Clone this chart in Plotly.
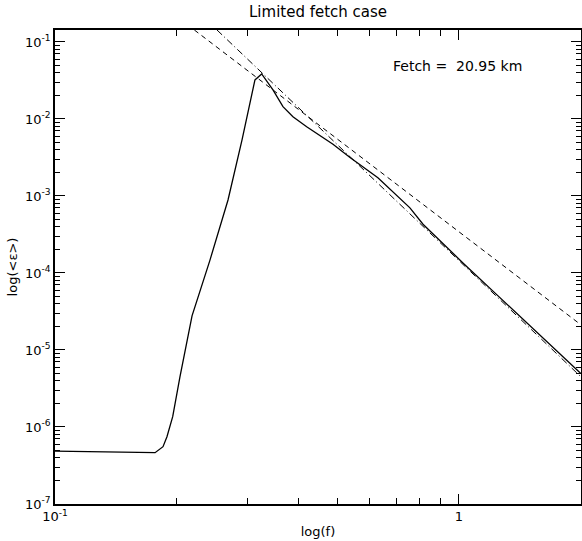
import numpy as np
import plotly.graph_objects as go

# Solid spectrum
freq = [0.1, 0.1293, 0.1623, 0.1769, 0.1851, 0.1893, 0.1956, 0.2039, 0.2184,
        0.2419, 0.2681, 0.2904, 0.3126, 0.3248, 0.3464, 0.3667, 0.3882, 0.4198,
        0.4877, 0.5374, 0.630, 0.7562, 0.8147, 1.023, 1.242, 1.514, 2.0]
energy = [4.87e-7, 4.73e-7, 4.6e-7, 4.64e-7, 5.55e-7, 7.48e-7, 1.36e-6, 4.5e-6, 2.77e-5,
          1.47e-4, 8.87e-4, 5.34e-3, 3.21e-2, 3.84e-2, 2.38e-2, 1.445e-2, 1.07e-2, 7.94e-3,
          4.7e-3, 3.15e-3, 1.72e-3, 7.0e-4, 4.3e-4, 1.35e-4, 5.2e-5, 1.95e-5, 5.0e-6]

# Reference power laws (endpoints)
f4_x = [0.2213, 2.0]
f4_y = [0.143, 2.14e-5]
f5_x = [0.2518, 2.0]
f5_y = [0.143, 4.53e-6]

xtickvals = [0.1, 1]
xticktext = ["10<sup>-1</sup>", "1"]
xminor = [0.2, 0.3, 0.4, 0.5, 0.6, 0.7, 0.8, 0.9, 2.0]
ytickvals = [1e-7, 1e-6, 1e-5, 1e-4, 1e-3, 1e-2, 1e-1]
yticktext = ["10<sup>-7</sup>", "10<sup>-6</sup>", "10<sup>-5</sup>", "10<sup>-4</sup>",
             "10<sup>-3</sup>", "10<sup>-2</sup>", "10<sup>-1</sup>"]
yminor = [m * 10.0 ** e for e in range(-7, 0) for m in range(2, 10)]

fig = go.Figure()
fig.add_trace(go.Scatter(x=freq, y=energy, mode="lines",
                         line=dict(color="black", width=1.3), showlegend=False))
fig.add_trace(go.Scatter(x=f4_x, y=f4_y, mode="lines",
                         line=dict(color="black", width=1, dash="5px,4px"), showlegend=False))
fig.add_trace(go.Scatter(x=f5_x, y=f5_y, mode="lines",
                         line=dict(color="black", width=1, dash="7px,3px,1px,3px"), showlegend=False))

font = "DejaVu Sans, Verdana, sans-serif"
axis_common = dict(type="log", showgrid=False, zeroline=False, showline=True,
                   linecolor="black", linewidth=1.5, mirror="ticks", automargin=False,
                   ticks="inside", ticklen=10, tickwidth=1, tickcolor="black",
                   tickfont=dict(family=font, size=13, color="black"))

fig.update_xaxes(range=[-1, np.log10(2.005)], tickmode="array", tickvals=xtickvals, ticktext=xticktext,
                 minor=dict(tickmode="array", tickvals=xminor, ticks="inside", ticklen=6,
                            tickwidth=1, tickcolor="black", showgrid=False),
                 title=dict(text="log(f)", font=dict(family=font, size=13, color="black"),
                            standoff=4),
                 **axis_common)
fig.update_yaxes(range=[-7, np.log10(0.143)], tickmode="array", tickvals=ytickvals, ticktext=yticktext,
                 minor=dict(tickmode="array", tickvals=yminor, ticks="inside", ticklen=5,
                            tickwidth=1, tickcolor="black", showgrid=False),
                 title=dict(text="log(&lt;ε&gt;)", font=dict(family=font, size=13, color="black"),
                            standoff=4),
                 **axis_common)

fig.add_annotation(x=0.766, y=0.925, xref="paper", yref="paper", xanchor="center", yanchor="middle",
                   text="Fetch =&nbsp;&nbsp;20.95 km",
                   showarrow=False, font=dict(family=font, size=14, color="black"))
fig.add_annotation(x=0.5, y=1.038, xref="paper", yref="paper", xanchor="center", yanchor="middle",
                   text="Limited fetch case",
                   showarrow=False, font=dict(family=font, size=15, color="black"))

fig.update_layout(
    width=582, height=541,
    margin=dict(l=55, r=1, t=30, b=37),
    paper_bgcolor="white", plot_bgcolor="white",
)

fig.write_html("out.html", config={"displayModeBar": False},
               post_script="document.body.style.margin='0';document.body.style.overflow='hidden';")
